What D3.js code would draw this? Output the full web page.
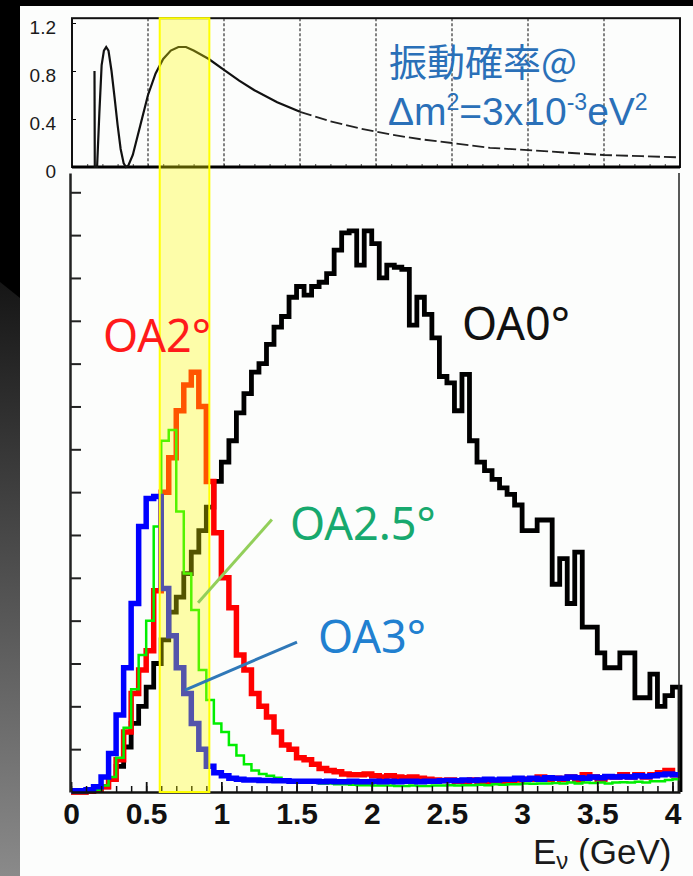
<!DOCTYPE html>
<html>
<head>
<meta charset="utf-8">
<script src="https://cdn.jsdelivr.net/npm/d3@7"></script>
<style>
html, body { margin: 0; padding: 0; background: #000; }
svg { display: block; }
</style>
</head>
<body>
<script>
// oscillation probability curve (top panel)
const probE = [0.148, 0.150, 0.165, 0.18, 0.195, 0.21, 0.225, 0.24, 0.26, 0.28, 0.30, 0.32, 0.34, 0.355, 0.37,
  0.40, 0.45, 0.50, 0.55, 0.60, 0.65, 0.70, 0.75, 0.80, 0.90, 1.0, 1.1, 1.2, 1.35, 1.5,
  1.7, 1.9, 2.1, 2.3, 2.5, 2.75, 3.0, 3.25, 3.5, 3.75, 4.0];
const probP = [0.80, 0.0, 0.0, 0.45, 0.85, 0.97, 1.0, 0.97, 0.8, 0.58, 0.35, 0.15, 0.03, 0.0, 0.01,
  0.1, 0.35, 0.6, 0.78, 0.9, 0.97, 1.0, 1.0, 0.97, 0.9, 0.81, 0.72, 0.64, 0.54, 0.46,
  0.38, 0.32, 0.27, 0.23, 0.2, 0.16, 0.14, 0.12, 0.1, 0.09, 0.08];

// neutrino energy spectra, 0.05 GeV bins from 0 to 4.05 GeV (arbitrary units)
const binWidth = 0.05;
const oa0 = [0, 0, 0.02, 0.05, 0.12, 0.3, 0.6, 1.05, 1.6, 2.0,
  2.45, 3.0, 3.55, 4.2, 4.55, 5.1, 5.6, 6.1, 6.65, 7.25,
  7.7, 8.2, 8.85, 9.3, 9.8, 10.0, 10.45, 10.85, 11.1, 11.55,
  11.8, 11.6, 11.8, 11.9, 12.1, 12.65, 13.05, 13.1, 12.3, 13.1,
  12.8, 12.0, 12.3, 12.25, 12.2, 10.9, 11.55, 11.15, 10.6, 9.7,
  9.55, 8.9, 9.75, 8.2, 7.7, 7.5, 7.3, 7.1, 6.95, 6.7,
  6.1, 6.1, 6.35, 6.35, 4.85, 5.45, 4.4, 5.6, 3.85, 3.85,
  3.25, 2.9, 2.9, 3.25, 3.25, 2.2, 2.2, 2.75, 2.0, 2.25,
  2.45];
const oa2 = [0, 0, 0.02, 0.05, 0.12, 0.3, 0.75, 1.4, 2.3, 2.85,
  3.3, 4.7, 7.0, 7.8, 8.9, 9.5, 9.8, 9.0, 7.25, 6.05,
  5.0, 4.3, 3.2, 2.85, 2.3, 2.0, 1.75, 1.4, 1.1, 1.0,
  0.8, 0.75, 0.65, 0.55, 0.5, 0.47, 0.42, 0.4, 0.4, 0.42,
  0.38, 0.35, 0.38, 0.35, 0.33, 0.35, 0.32, 0.3, 0.28, 0.27,
  0.28, 0.25, 0.25, 0.28, 0.25, 0.22, 0.25, 0.22, 0.25, 0.28,
  0.3, 0.3, 0.35, 0.3, 0.32, 0.3, 0.35, 0.28, 0.4, 0.35,
  0.3, 0.35, 0.35, 0.4, 0.35, 0.4, 0.35, 0.4, 0.45, 0.5,
  0.4];
const oa25 = [0, 0, 0.02, 0.05, 0.15, 0.35, 0.8, 1.5, 2.4, 3.2,
  4.0, 6.2, 8.2, 8.45, 6.55, 5.1, 4.25, 2.85, 2.15, 1.6,
  1.4, 1.1, 0.85, 0.65, 0.5, 0.42, 0.38, 0.33, 0.3, 0.27,
  0.25, 0.23, 0.22, 0.2, 0.2, 0.18, 0.18, 0.17, 0.16, 0.16,
  0.15, 0.15, 0.15, 0.14, 0.14, 0.15, 0.14, 0.14, 0.15, 0.15,
  0.16, 0.15, 0.16, 0.16, 0.17, 0.16, 0.18, 0.17, 0.18, 0.18,
  0.2, 0.19, 0.2, 0.2, 0.21, 0.2, 0.22, 0.2, 0.22, 0.21,
  0.22, 0.2, 0.22, 0.23, 0.22, 0.24, 0.22, 0.25, 0.25, 0.28,
  0.3];
const oa3 = [0.03, 0.03, 0.05, 0.12, 0.35, 0.9, 1.8, 2.9, 4.4, 6.2,
  6.85, 6.9, 4.75, 3.65, 2.9, 2.3, 1.6, 1.0, 0.6, 0.45,
  0.38, 0.32, 0.3, 0.28, 0.28, 0.27, 0.27, 0.26, 0.26, 0.25,
  0.25, 0.25, 0.25, 0.24, 0.25, 0.24, 0.24, 0.25, 0.24, 0.24,
  0.25, 0.24, 0.25, 0.24, 0.25, 0.25, 0.24, 0.25, 0.25, 0.26,
  0.27, 0.26, 0.28, 0.27, 0.28, 0.3, 0.28, 0.3, 0.3, 0.32,
  0.3, 0.32, 0.3, 0.33, 0.32, 0.32, 0.35, 0.33, 0.32, 0.35,
  0.33, 0.36, 0.35, 0.36, 0.35, 0.38, 0.36, 0.38, 0.4, 0.42,
  0.4];

const xTicks = [0, 0.5, 1, 1.5, 2, 2.5, 3, 3.5, 4];
const xTickLabels = ["0", "0.5", "1", "1.5", "2", "2.5", "3", "3.5", "4"];
const probTicks = [0, 0.4, 0.8, 1.2];
const probTickLabels = ["0", "0.4", "0.8", "1.2"];
const gridE = [0.5, 1, 1.5, 2, 2.5, 3, 3.5];
const band = [0.59, 0.92];

const series = [
  {name: "OA0°", values: oa0, color: "#000", width: 4.8, drop: true},
  {name: "OA2°", values: oa2, color: "#ff0000", width: 5.5},
  {name: "OA2.5°", values: oa25, color: "#00ee00", width: 2.5},
  {name: "OA3°", values: oa3, color: "#0000ff", width: 5.5}
];
// label anchor (E, height) and leader line ends, in data units
const labels = [
  {text: "OA0°", E: 2.6, v: 10.56, color: "#111"},
  {text: "OA2°", E: 0.213, v: 10.26, color: "#ff1a1a"},
  {text: "OA2.5°", E: 1.456, v: 5.89, color: "#17a96e", lead: [[0.845, 4.42], [1.336, 6.36]], leadColor: "#92cf5a"},
  {text: "OA3°", E: 1.642, v: 3.25, color: "#2180d0", lead: [[0.758, 2.38], [1.503, 3.5]], leadColor: "#2f78b8"}
];

const width = 693, height = 876;
const svg = d3.select("body").append("svg")
    .attr("width", width)
    .attr("height", height);

// slide background
const defs = svg.append("defs");
const grad = defs.append("linearGradient")
    .attr("id", "side").attr("x1", 0).attr("y1", 0).attr("x2", 0).attr("y2", 1);
grad.append("stop").attr("offset", "0%").attr("stop-color", "#161616");
grad.append("stop").attr("offset", "100%").attr("stop-color", "#8a8a8a");
svg.append("rect").attr("width", width).attr("height", height).attr("fill", "#000");
svg.append("path").attr("d", "M0,282L20,298L20,876L0,876Z").attr("fill", "url(#side)");
svg.append("rect").attr("x", 20).attr("y", 6).attr("width", width - 20).attr("height", height - 6)
    .attr("fill", "#fcfdfc");

// scales
const xTop = d3.scaleLinear().domain([0, 4]).range([72, 680]);
const yTop = d3.scaleLinear().domain([0, 1.2]).range([167, 23]);
const x = d3.scaleLinear().domain([0, 4.05]).range([71, 680]);
const y = d3.scaleLinear().domain([0, 14.45]).range([792, 173]);

// ---- top panel: oscillation probability ----
const probPanel = svg.append("g");
probPanel.selectAll("line.grid")
  .data(gridE)
  .join("line")
    .attr("x1", d => xTop(d)).attr("x2", d => xTop(d))
    .attr("y1", yTop(1.24)).attr("y2", yTop(0))
    .attr("stroke", "#333").attr("stroke-width", 1.2)
    .attr("stroke-dasharray", "3,2");

probPanel.append("g")
    .attr("transform", `translate(0,${yTop(0)})`)
    .call(d3.axisBottom(xTop).tickValues(d3.range(0, 4.001, 0.1)).tickSize(-3).tickFormat("").tickSizeOuter(0))
    .call(g => g.select(".domain").remove())
    .call(g => g.selectAll("line").attr("stroke", "#444"));

probPanel.append("g")
    .attr("transform", `translate(${xTop(0)},0)`)
    .call(d3.axisLeft(yTop).tickValues(probTicks).tickSize(-4).tickPadding(16)
      .tickFormat((d, i) => probTickLabels[i]).tickSizeOuter(0))
    .call(g => g.select(".domain").remove())
    .call(g => g.selectAll("text")
      .attr("dy", "0.55em")
      .attr("font-family", "Liberation Sans, Arial, sans-serif")
      .attr("font-size", 19)
      .attr("fill", "#1a1a1a"));

probPanel.append("rect")
    .attr("x", xTop(0)).attr("y", yTop(1.24))
    .attr("width", xTop(4) - xTop(0)).attr("height", yTop(0) - yTop(1.24))
    .attr("fill", "none").attr("stroke", "#111").attr("stroke-width", 2);
probPanel.append("line")
    .attr("x1", xTop(0)).attr("x2", xTop(4)).attr("y1", yTop(0)).attr("y2", yTop(0))
    .attr("stroke", "#000").attr("stroke-width", 3);

const probPts = probE.map((e, i) => [e, probP[i]]);
const probLine = d3.line().x(d => xTop(d[0])).y(d => yTop(d[1]));
probPanel.append("path")
    .attr("d", probLine(probPts.filter(d => d[0] <= 1.5)))
    .attr("fill", "none").attr("stroke", "#111").attr("stroke-width", 2.2);
probPanel.append("path")
    .attr("d", probLine(probPts.filter(d => d[0] >= 1.5)))
    .attr("fill", "none").attr("stroke", "#222").attr("stroke-width", 1.8)
    .attr("stroke-dasharray", "12,4");

probPanel.append("text")
    .attr("x", 389).attr("y", 76)
    .attr("font-family", "Noto Sans CJK JP, sans-serif").attr("font-size", 38)
    .attr("fill", "#2a70b8")
    .text("振動確率@");
const l2 = probPanel.append("text")
    .attr("x", 388).attr("y", 125)
    .attr("font-family", "Liberation Sans, Arial, sans-serif")
    .attr("font-size", 39).attr("fill", "#2a70b8");
l2.append("tspan").text("Δm");
l2.append("tspan").attr("font-size", 23).attr("dy", -15).text("2");
l2.append("tspan").attr("dy", 15).text("=3x10");
l2.append("tspan").attr("font-size", 23).attr("dy", -15).text("-3");
l2.append("tspan").attr("dy", 15).text("eV");
l2.append("tspan").attr("font-size", 23).attr("dy", -15).text("2");

// ---- bottom panel: energy spectra ----
const specPanel = svg.append("g");
const hist = d3.line().curve(d3.curveStepAfter).x(d => x(d[0])).y(d => y(d[1]));

specPanel.selectAll("path.hist")
  .data(series)
  .join("path")
    .attr("class", "hist")
    .attr("d", s => {
      const pts = s.values.map((v, i) => [i * binWidth, v]);
      pts.push([s.values.length * binWidth, s.values[s.values.length - 1]]);
      if (s.drop) pts.push([s.values.length * binWidth, 0]);
      return hist(pts);
    })
    .attr("fill", "none")
    .attr("stroke", s => s.color)
    .attr("stroke-width", s => s.width)
    .attr("stroke-linejoin", "miter");

// x axis: minor ticks every 0.1, major every 0.5
specPanel.append("g")
    .attr("transform", `translate(0,${y(0)})`)
    .call(d3.axisBottom(x).tickValues(d3.range(0, 4.001, 0.1)).tickSize(-6).tickFormat("").tickSizeOuter(0))
    .call(g => g.select(".domain").remove())
    .call(g => g.selectAll("line").attr("stroke", "#111").attr("stroke-width", 1.5));
specPanel.append("g")
    .attr("transform", `translate(0,${y(0)})`)
    .call(d3.axisBottom(x).tickValues(xTicks).tickSize(-10).tickPadding(11)
      .tickFormat((d, i) => xTickLabels[i]).tickSizeOuter(0))
    .call(g => g.select(".domain").attr("stroke", "#111").attr("stroke-width", 2.5))
    .call(g => g.selectAll("line").attr("stroke", "#111").attr("stroke-width", 1.8))
    .call(g => g.selectAll("text")
      .attr("font-family", "Liberation Sans, Arial, sans-serif")
      .attr("font-weight", "bold")
      .attr("font-size", 30)
      .attr("fill", "#111"));

specPanel.append("g")
    .attr("transform", `translate(${x(0) - 1},0)`)
    .call(d3.axisLeft(y).tickValues(d3.range(1, 15)).tickSize(-11).tickFormat("").tickSizeOuter(0))
    .call(g => g.select(".domain").attr("stroke", "#222").attr("stroke-width", 2.5))
    .call(g => g.selectAll("line").attr("stroke", "#222").attr("stroke-width", 2));

specPanel.append("line")
    .attr("x1", x(4.05) - 1).attr("x2", x(4.05) - 1)
    .attr("y1", y(14.45)).attr("y2", y(0))
    .attr("stroke", "#222").attr("stroke-width", 1.5);

// selected energy window, drawn over both panels
svg.append("rect")
    .attr("x", x(band[0])).attr("y", yTop(1.24))
    .attr("width", x(band[1]) - x(band[0]))
    .attr("height", y(0) - yTop(1.24))
    .attr("fill", "#ffff00").attr("fill-opacity", 0.33)
    .attr("stroke", "#ffff00").attr("stroke-width", 2);

// leader lines and labels
const ann = svg.append("g");
ann.selectAll("line")
  .data(labels.filter(d => d.lead))
  .join("line")
    .attr("x1", d => x(d.lead[0][0])).attr("y1", d => y(d.lead[0][1]))
    .attr("x2", d => x(d.lead[1][0])).attr("y2", d => y(d.lead[1][1]))
    .attr("stroke", d => d.leadColor).attr("stroke-width", 3);
ann.selectAll("text")
  .data(labels)
  .join("text")
    .attr("x", d => x(d.E)).attr("y", d => y(d.v))
    .attr("font-family", "Noto Sans, DejaVu Sans, sans-serif")
    .attr("font-size", 45)
    .attr("fill", d => d.color)
    .text(d => d.text);

const xl = svg.append("text")
    .attr("x", 533).attr("y", 864)
    .attr("font-family", "Liberation Sans, Arial, sans-serif")
    .attr("font-size", 35).attr("fill", "#1a1a1a");
xl.append("tspan").text("E");
xl.append("tspan").attr("font-size", 24).attr("dy", 5).text("ν");
xl.append("tspan").attr("dy", -5).text(" (GeV)");
</script>
</body>
</html>
